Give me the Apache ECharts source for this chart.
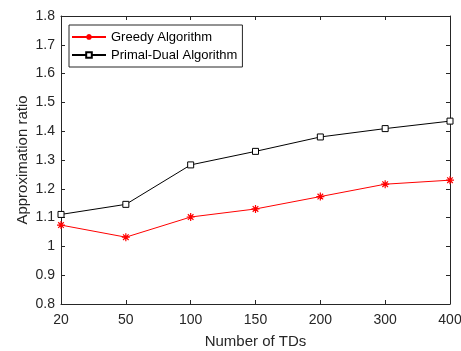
<!DOCTYPE html>
<html><head><meta charset="utf-8">
<script src="https://cdn.jsdelivr.net/npm/echarts@6/dist/echarts.min.js"></script>
<style>html,body{margin:0;padding:0;background:#fff}#c{width:461px;height:351px}</style>
</head><body><div id="c"></div>
<script>
const categories = ['20','50','100','150','200','300','400'];
const greedy = [1.074, 1.032, 1.102, 1.130, 1.173, 1.216, 1.230];
const primalDual = [1.111, 1.146, 1.283, 1.330, 1.380, 1.409, 1.435];
const yMin = 0.8, yMax = 1.8, yStep = 0.1;

const star = 'path://M0,-5L0,5M-5,0L5,0M-3.5,-3.5L3.5,3.5M-3.5,3.5L3.5,-3.5';
const font = 'Liberation Sans, Arial, sans-serif';
const txt = '#262626';
const chart = echarts.init(document.getElementById('c'));
const axBase = {
  axisLine: {show: true, onZero: false, lineStyle: {color: txt, width: 1}},
  splitLine: {show: false}
};
chart.setOption({
  animation: false,
  grid: {left: 61, right: 11, top: 16, bottom: 47, containLabel: false, outerBoundsMode: 'none'},
  legend: {
    left: 69, top: 25, orient: 'vertical',
    borderColor: txt, borderWidth: 1, backgroundColor: '#fff',
    padding: [5, 5, 5, 2], itemGap: 4, itemWidth: 34, itemHeight: 7,
    textStyle: {fontFamily: font, fontSize: 13, color: '#000', lineHeight: 14},
    data: ['Greedy Algorithm', 'Primal-Dual Algorithm']
  },
  xAxis: [
    Object.assign({type: 'category', data: categories, boundaryGap: false,
      name: 'Number of TDs', nameLocation: 'middle', nameGap: 30, nameMoveOverlap: false,
      nameTextStyle: {fontFamily: font, fontSize: 15, color: txt},
      axisTick: {show: true, inside: true, length: 4, alignWithLabel: true, lineStyle: {color: txt}},
      axisLabel: {fontFamily: font, fontSize: 14, color: txt, margin: 9, interval: 0}}, axBase),
    Object.assign({type: 'category', data: categories, boundaryGap: false, position: 'top',
      axisTick: {show: true, inside: true, length: 4, lineStyle: {color: txt}},
      axisLabel: {show: false}}, axBase)
  ],
  yAxis: [
    Object.assign({type: 'value', min: yMin, max: yMax, interval: yStep,
      name: 'Approximation ratio', nameLocation: 'middle', nameGap: 31, nameMoveOverlap: false,
      nameTextStyle: {fontFamily: font, fontSize: 15, color: txt},
      axisTick: {show: true, inside: true, length: 4, lineStyle: {color: txt}},
      axisLabel: {fontFamily: font, fontSize: 14, color: txt, margin: 6,
        formatter: v => String(Math.round(v * 10) / 10)}}, axBase),
    Object.assign({type: 'value', min: yMin, max: yMax, interval: yStep, position: 'right',
      axisTick: {show: true, inside: true, length: 4, lineStyle: {color: txt}},
      axisLabel: {show: false}}, axBase)
  ],
  series: [
    {name: 'Greedy Algorithm', type: 'line', data: greedy, symbol: star, symbolSize: 8,
      lineStyle: {color: '#ff0000', width: 1}, itemStyle: {color: '#ff0000', borderColor: '#ff0000', borderWidth: 1.2},
      showAllSymbol: true},
    {name: 'Primal-Dual Algorithm', type: 'line', data: primalDual, symbol: 'rect', symbolSize: 6,
      lineStyle: {color: '#000', width: 1}, itemStyle: {color: '#fff', borderColor: '#000', borderWidth: 1},
      showAllSymbol: true}
  ]
});
</script></body></html>
